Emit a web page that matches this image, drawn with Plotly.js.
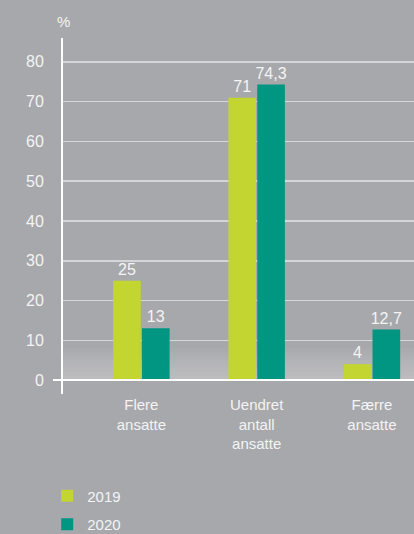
<!DOCTYPE html>
<html>
<head>
<meta charset="utf-8">
<script src="https://cdn.plot.ly/plotly-3.0.1.min.js"></script>
<style>html,body{margin:0;padding:0;background:#a7a8ab;}#chart{width:414px;height:534px;}</style>
</head>
<body>
<div id="chart"></div>
<script>
const categories = ["Flere<br>ansatte", "Uendret<br>antall<br>ansatte", "Færre<br>ansatte"];
const series2019 = [25, 71, 4];
const series2020 = [13, 74.3, 12.7];
const seriesNames = ["2019", "2020"];
const tickValues = [0, 10, 20, 30, 40, 50, 60, 70, 80];

const fmt = v => String(v).replace('.', ',');
const FONT = "Liberation Sans, Arial, Helvetica, sans-serif";
const TXT = "#f4f4f4";

const traces = [
  {type: 'bar', name: seriesNames[0], x: categories, y: series2019,
   text: series2019.map(fmt), textposition: 'outside', cliponaxis: false, constraintext: 'none',
   textfont: {color: TXT, size: 16, family: FONT},
   marker: {color: '#c3d530'}, legendgroup: 'a', hoverinfo: 'none'},
  {type: 'bar', name: seriesNames[1], x: categories, y: series2020,
   text: series2020.map(fmt), textposition: 'outside', cliponaxis: false, constraintext: 'none',
   textfont: {color: TXT, size: 16, family: FONT},
   marker: {color: '#009682'}, legendgroup: 'b', hoverinfo: 'none'}
];

const shapes = [];
const bands = 8;
for (let i = 0; i < bands; i++) {
  shapes.push({type: 'rect', xref: 'paper', yref: 'y', layer: 'below',
    x0: 0, x1: 1, y0: 0, y1: 8 * (bands - i) / bands,
    fillcolor: 'rgba(255,255,255,0.04)', line: {width: 0}});
}
shapes.push({type: 'line', xref: 'paper', yref: 'y', x0: -0.0285, x1: 1, y0: 0, y1: 0,
  line: {color: '#ffffff', width: 2}});

const layout = {
  width: 414, height: 534,
  paper_bgcolor: '#a7a8ab', plot_bgcolor: '#a7a8ab',
  margin: {l: 63, r: 0, t: 38, b: 140, autoexpand: false},
  font: {family: FONT, color: TXT, size: 15},
  barmode: 'group', bargap: 0.5, bargroupgap: 0.04,
  xaxis: {type: 'category', range: [-0.68, 2.365], showgrid: false, zeroline: false,
    showline: false, ticks: '', automargin: false, tickfont: {size: 15, color: TXT, family: FONT}},
  yaxis: {range: [-3.5, 86], tickvals: tickValues, showgrid: true, gridcolor: '#d6d6d8',
    gridwidth: 1.5, zeroline: false, showline: true, linecolor: '#ffffff', linewidth: 2,
    ticks: '', automargin: false, ticklabelstandoff: 14, tickfont: {size: 16, color: TXT, family: FONT}},
  showlegend: true,
  legend: {orientation: 'v', x: -0.045, xanchor: 'left', y: -0.24, yanchor: 'top',
    font: {size: 15, color: TXT, family: FONT}, tracegroupgap: 6, bgcolor: 'rgba(0,0,0,0)'},
  annotations: [{text: '%', xref: 'paper', yref: 'paper', x: 0, y: 1.045, showarrow: false,
    xanchor: 'center', yanchor: 'middle', font: {size: 15, color: TXT, family: FONT}}],
  shapes: shapes
};

Plotly.newPlot('chart', traces, layout, {displayModeBar: false, staticPlot: true});
</script>
</body>
</html>
